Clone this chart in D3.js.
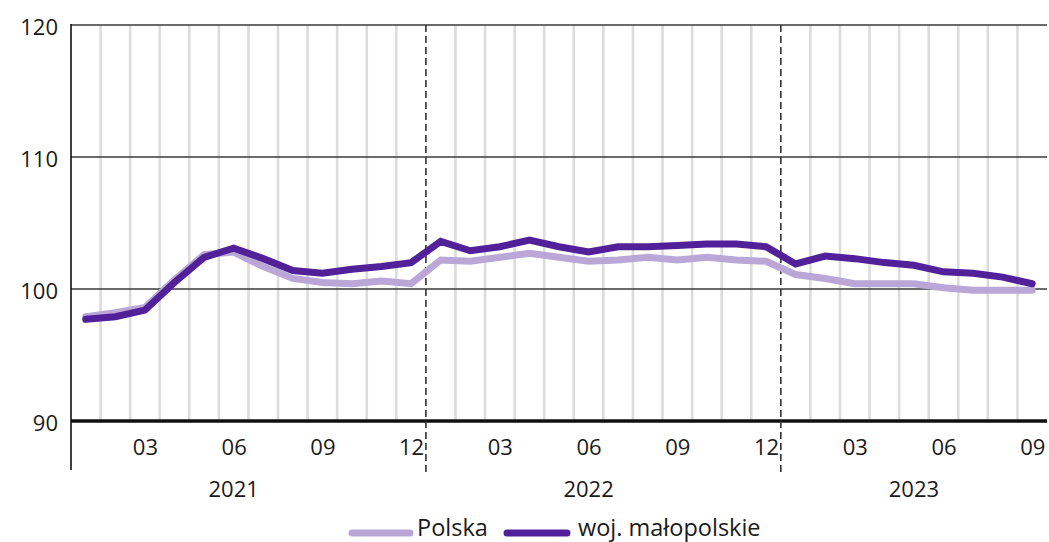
<!DOCTYPE html>
<html><head><meta charset="utf-8">
<script src="https://cdn.jsdelivr.net/npm/d3@7"></script>
<style>
html,body{margin:0;padding:0;background:#fff;}
svg{display:block;font-family:"Open Sans",sans-serif;}
</style></head>
<body>
<svg id="chart" width="1049" height="542"></svg>
<script>
const months = ["2021-01","2021-02","2021-03","2021-04","2021-05","2021-06","2021-07","2021-08","2021-09","2021-10","2021-11","2021-12",
"2022-01","2022-02","2022-03","2022-04","2022-05","2022-06","2022-07","2022-08","2022-09","2022-10","2022-11","2022-12",
"2023-01","2023-02","2023-03","2023-04","2023-05","2023-06","2023-07","2023-08","2023-09"];
const polska = [97.9,98.2,98.6,100.7,102.6,102.8,101.7,100.8,100.5,100.4,100.6,100.4,
102.2,102.1,102.4,102.7,102.4,102.1,102.2,102.4,102.2,102.4,102.2,102.1,
101.1,100.8,100.4,100.4,100.4,100.1,99.9,99.9,99.9];
const malopolskie = [97.7,97.9,98.4,100.5,102.4,103.1,102.3,101.4,101.2,101.5,101.7,102.0,
103.6,102.9,103.2,103.7,103.2,102.8,103.2,103.2,103.3,103.4,103.4,103.2,
101.9,102.5,102.3,102.0,101.8,101.3,101.2,100.9,100.4];
const yTicks = [90,100,110,120];
const monthTickLabels = ["03","06","09","12"];
const seriesNames = ["Polska","woj. małopolskie"];
const colors = ["#bba7d7","#52219a"];

const svg = d3.select("#chart");
const mLeft = 71, mRight = 1047, mTop = 25, mBottom = 421;

const x = d3.scaleBand().domain(months).range([mLeft, mRight]).paddingInner(0).paddingOuter(0);
const xc = m => x(m) + x.bandwidth()/2;
const y = d3.scaleLinear().domain([90,120]).range([mBottom, mTop]);

const g = svg.append("g");
months.forEach((m,i) => {
  if (i === 0 || m.endsWith("-01")) return;
  const xb = x(m);
  g.append("line").attr("x1",xb).attr("x2",xb).attr("y1",mTop).attr("y2",mBottom)
    .attr("stroke","#dcdcdc").attr("stroke-width",2.6);
});

yTicks.forEach(t => {
  g.append("line").attr("x1",mLeft).attr("x2",mRight).attr("y1",y(t)).attr("y2",y(t))
    .attr("stroke", t===90 ? "#111" : "#3a3a3a").attr("stroke-width", t===90 ? 3.5 : 1.4);
});

months.forEach((m,i) => {
  if (i>0 && m.endsWith("-01")) {
    const xb = x(m);
    g.append("line").attr("x1",xb).attr("x2",xb).attr("y1",mTop).attr("y2",472)
      .attr("stroke","#333").attr("stroke-width",1.6).attr("stroke-dasharray","7,4");
  }
});

g.append("line").attr("x1",mLeft).attr("x2",mLeft).attr("y1",mTop-1).attr("y2",470)
  .attr("stroke","#111").attr("stroke-width",1.6);

const yAxis = d3.axisLeft(y).tickValues(yTicks).tickSize(0).tickPadding(13);
const ya = svg.append("g").attr("transform",`translate(${mLeft},0)`).call(yAxis);
ya.select(".domain").remove();
ya.selectAll("text").attr("font-size",22).attr("fill","#1a1a1a").attr("font-family","'Open Sans',sans-serif").attr("dy","0.45em");

const xAxis = d3.axisBottom(d3.scalePoint().domain(months).range([xc(months[0]), xc(months[months.length-1])]))
  .tickValues(months.filter(m => monthTickLabels.includes(m.slice(5))))
  .tickFormat(m => m.slice(5)).tickSize(0).tickPadding(0);
const xa = svg.append("g").attr("transform",`translate(0,${mBottom})`).call(xAxis);
xa.select(".domain").remove();
xa.selectAll("text").attr("font-size",22).attr("fill","#1a1a1a").attr("font-family","'Open Sans',sans-serif").attr("y",34).attr("dy",0);

const years = Array.from(new Set(months.map(m => m.slice(0,4))));
years.forEach(yr => {
  const ms = months.filter(m => m.startsWith(yr));
  const mid = ms[Math.floor((ms.length-1)/2)];
  svg.append("text").attr("x", xc(mid)).attr("y", 497).attr("text-anchor","middle")
    .attr("font-size",22).attr("fill","#1a1a1a").text(yr);
});

const line = d3.line().x((d,i) => xc(months[i])).y(d => y(d)).curve(d3.curveLinear);
[polska, malopolskie].forEach((s,k) => {
  svg.append("path").datum(s).attr("d", line).attr("fill","none")
    .attr("stroke", colors[k]).attr("stroke-width", 7)
    .attr("stroke-linejoin","miter").attr("stroke-linecap","round");
});

const leg = svg.append("g");
const legItems = [{x1:352,x2:410,tx:417},{x1:507,x2:567,tx:578}];
legItems.forEach((it,k) => {
  leg.append("line").attr("x1",it.x1).attr("x2",it.x2).attr("y1",533).attr("y2",533)
    .attr("stroke",colors[k]).attr("stroke-width",7).attr("stroke-linecap","round");
  leg.append("text").attr("x",it.tx).attr("y",536).attr("font-size",23.5).attr("fill","#1a1a1a").text(seriesNames[k]);
});
</script>
</body></html>
